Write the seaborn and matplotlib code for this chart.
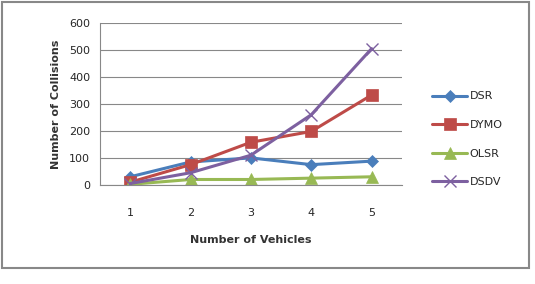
import pandas as pd
import matplotlib
matplotlib.use('Agg')
import matplotlib.pyplot as plt
import seaborn as sns

vehicles = [1, 2, 3, 4, 5]
dsr = [30, 85, 100, 75, 88]
dymo = [10, 75, 158, 198, 333]
olsr = [2, 20, 20, 25, 30]
dsdv = [5, 45, 110, 260, 505]
protocols = ['DSR', 'DYMO', 'OLSR', 'DSDV']

colors = {'DSR': '#4A7EBB', 'DYMO': '#BE4B48', 'OLSR': '#98B954', 'DSDV': '#7D60A0'}
markers = {'DSR': 'D', 'DYMO': 's', 'OLSR': '^', 'DSDV': 'x'}
msizes = {'DSR': 6, 'DYMO': 8, 'OLSR': 8, 'DSDV': 8}

df = pd.DataFrame({'vehicles': vehicles * 4,
                   'collisions': dsr + dymo + olsr + dsdv,
                   'protocol': sum([[p] * 5 for p in protocols], [])})

sns.set_style('white')
plt.rcParams['font.family'] = ['DejaVu Sans']

fig = plt.figure(figsize=(5.35, 2.84), dpi=100)
ax = fig.add_axes([0.187, 0.349, 0.564, 0.570])

for p in protocols:
    sub = df[df.protocol == p]
    sns.lineplot(data=sub, x='vehicles', y='collisions', ax=ax, color=colors[p],
                 marker=markers[p], markersize=msizes[p], markeredgecolor=colors[p],
                 markeredgewidth=1.0 if p == 'DSDV' else 0.5, linewidth=2.2, label=p)

ax.set_xlim(0.5, 5.5)
ax.set_ylim(0, 600)
ax.set_yticks(range(0, 601, 100))
ax.set_xticks(vehicles)
ax.set_xticks([0.5, 1.5, 2.5, 3.5, 4.5, 5.5], minor=True)
ax.tick_params(axis='x', which='major', length=0, pad=17, labelsize=8)
ax.tick_params(axis='x', which='minor', length=5, color='#888888', direction='out')
ax.tick_params(axis='y', length=4, color='#888888', direction='out', labelsize=8, pad=3)
ax.yaxis.grid(True, color='#888888', linewidth=0.8)
ax.set_axisbelow(True)
for s in ['top', 'right']:
    ax.spines[s].set_visible(False)
ax.spines['left'].set_color('#888888')
ax.spines['bottom'].set_color('#888888')
ax.set_xlabel('Number of Vehicles', fontsize=8, fontweight='bold', color='#333333', labelpad=12)
ax.set_ylabel('Number of Collisions', fontsize=8, fontweight='bold', color='#333333', labelpad=6)

ax.legend(loc='upper left', bbox_to_anchor=(1.085, 0.605), frameon=False, fontsize=8,
          handlelength=3.2, handletextpad=0.2, labelspacing=1.67, borderaxespad=0)

fig.patches.append(plt.Rectangle((0.004, 0.057), 0.985, 0.935, transform=fig.transFigure,
                                 fill=False, edgecolor='#888888', linewidth=1.5))

fig.savefig('out.png', dpi=100)
